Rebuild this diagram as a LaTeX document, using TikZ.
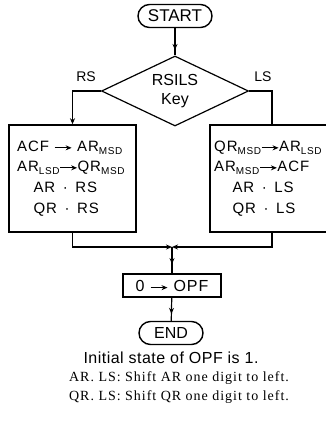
\documentclass[tikz,border=0pt]{standalone}
\usepackage{fontspec}
\setmainfont{Liberation Sans}
\newfontfamily\serifspaced[LetterSpace=7]{Liberation Serif}
\newfontfamily\sansspaced[LetterSpace=3]{Liberation Sans}
\newfontfamily\boxfont[LetterSpace=6]{Liberation Sans}
\usetikzlibrary{shapes.geometric,arrows.meta,decorations.markings}
\newcommand{\rarr}{\tikz[baseline=-0.4ex]\draw[line width=1.1pt,-{Stealth[length=6pt,width=5pt]}] (0pt,0pt)--(17pt,0pt);}
\newcommand{\sbs}[1]{\raisebox{-3pt}{\fontsize{10}{10}\selectfont #1}}
\begin{document}
\begin{tikzpicture}[x=1pt,y=-1pt,line width=1.2pt,
  arr/.style={-{Stealth[length=6pt,width=5pt]}},
  midarr/.style={postaction={decorate},decoration={markings,mark=at position #1 with {\arrow{Stealth[length=6pt,width=5pt]}}}},
  term/.style={draw,line width=1.4pt,rounded corners=11.5pt,minimum height=23pt,inner sep=0pt},
  procbox/.style={draw,line width=1.5pt,inner sep=0pt},
  txt/.style={inner sep=0pt,anchor=base west,font=\boxfont\fontsize{15}{15}\selectfont}]
\useasboundingbox (0,0) rectangle (325,426);
\node[term,minimum width=74pt,font=\fontsize{17}{17}\selectfont] (start) at (175,16) {START};
\node[draw,diamond,aspect=2.1,minimum width=147pt,minimum height=70pt,inner sep=0pt,align=center,font=\fontsize{16}{19}\selectfont] (dec) at (175,91) {RSILS\\Key};
\node[font=\fontsize{14}{14}\selectfont] (rs) at (86,77) {RS};
\node[font=\fontsize{14}{14}\selectfont] (ls) at (263,77) {LS};
\node[procbox,minimum width=127pt,minimum height=107pt] (lbox) at (72.5,178.5) {};
\node[procbox,minimum width=124pt,minimum height=107pt] (rbox) at (272,178.5) {};
\node[txt] (l1) at (17,151) {ACF \rarr\ AR\sbs{MSD}};
\node[txt] (l2) at (17,171) {AR\sbs{LSD}\rarr QR\sbs{MSD}};
\node[txt] (l3) at (33,192) {AR \,·\, RS};
\node[txt] (l4) at (33,213) {QR \,·\, RS};
\node[txt] (r1) at (214,151) {QR\sbs{MSD}\rarr AR\sbs{LSD}};
\node[txt] (r2) at (214,171) {AR\sbs{MSD}\rarr ACF};
\node[txt] (r3) at (232,192) {AR \,·\, LS};
\node[txt] (r4) at (232,213) {QR \,·\, LS};
\node[procbox,minimum width=98pt,minimum height=23pt,font=\boxfont\fontsize{16}{16}\selectfont] (opf) at (172,285.5) {0 \rarr\ OPF};
\node[term,minimum width=64pt,font=\fontsize{16}{16}\selectfont] (end) at (171,333) {END};
\coordinate (join) at (172,247);
\draw[midarr=0.8] (start) -- (dec);
\draw[arr] (dec.west) -| (lbox.north);
\draw (dec.east) -| (rbox.north);
\draw[arr] (lbox.south) |- (join);
\draw[arr] (rbox.south) |- (join);
\draw[midarr=0.65] (join) -- (opf);
\draw[midarr=0.7] (opf) -- (end);
\node[font=\sansspaced\fontsize{16}{16}\selectfont] (note) at (171,358) {Initial state of OPF is 1.};
\node[font=\serifspaced\fontsize{14}{14}\selectfont] (ar) at (179,378) {AR. LS: Shift AR one digit to left.};
\node[font=\serifspaced\fontsize{14}{14}\selectfont] (qr) at (179,397) {QR. LS: Shift QR one digit to left.};
\end{tikzpicture}
\end{document}
